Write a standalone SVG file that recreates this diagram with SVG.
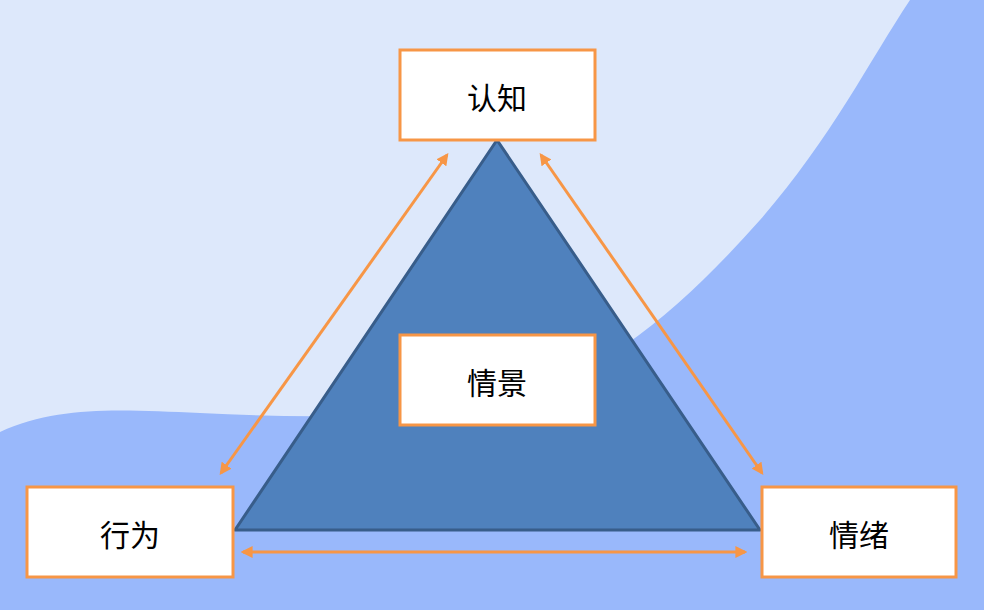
<svg xmlns="http://www.w3.org/2000/svg" width="984" height="610" viewBox="0 0 984 610">
<defs>
<style>
.box{fill:#fff;stroke:#f79646;stroke-width:3}
.lbl{font-family:"Noto Sans CJK SC",sans-serif;font-size:30px;fill:#000;text-anchor:middle;dominant-baseline:central}
.arr{stroke:#f79646;stroke-width:3;fill:none;marker-start:url(#ah);marker-end:url(#ah)}
</style>
<marker id="ah" viewBox="0 0 10 10" refX="8" refY="5" markerWidth="4" markerHeight="4" orient="auto-start-reverse"><path d="M0,0 L10,5 L0,10 z" fill="#f79646"/></marker>
</defs>
<rect width="984" height="610" fill="#dde8fb"/>
<path d="M0,432 C60,405 120,410 200,413 C300,418 400,420 500,400 C600,380 680,310 760,220 C830,140 870,60 910,0 L984,0 L984,610 L0,610 Z" fill="#99b8fb"/>
<g id="triangle"><path d="M497,140 L760,530 L235,530 Z" fill="#4f81bd" stroke="#385d8a" stroke-width="3" stroke-linejoin="round"/></g>
<g id="connectors">
<line class="arr" x1="447" y1="155" x2="221" y2="473"/>
<line class="arr" x1="541" y1="155" x2="762" y2="473"/>
<line class="arr" x1="243" y1="552" x2="745" y2="552"/>
</g>
<g id="n-cognition"><rect class="box" x="400" y="50" width="195" height="90"/><text class="lbl" x="497" y="96">认知</text></g>
<g id="n-situation"><rect class="box" x="400" y="335" width="195" height="90"/><text class="lbl" x="497" y="381">情景</text></g>
<g id="n-behavior"><rect class="box" x="27" y="487" width="206" height="90"/><text class="lbl" x="130" y="533">行为</text></g>
<g id="n-emotion"><rect class="box" x="762" y="487" width="194" height="90"/><text class="lbl" x="859" y="533">情绪</text></g>
</svg>
